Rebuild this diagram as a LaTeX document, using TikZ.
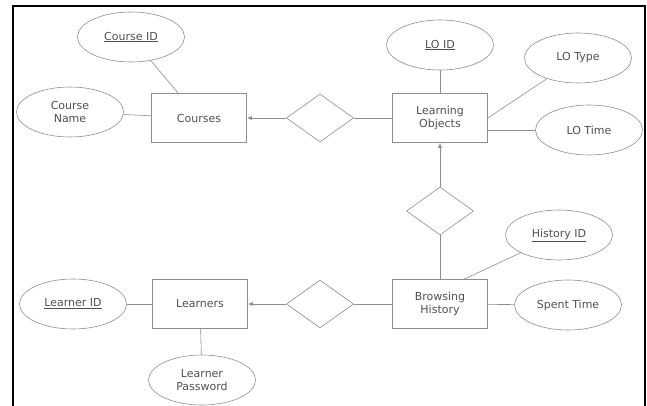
\documentclass[tikz,border=0pt]{standalone}
\usepackage{fontspec}
\setmainfont{DejaVu Sans}
\usetikzlibrary{shapes.geometric,arrows.meta,calc}
\definecolor{linegray}{HTML}{8E8E8E}
\definecolor{textgray}{HTML}{505050}

\tikzset{
  entity/.style={draw=linegray, line width=0.6pt, rectangle, minimum width=95pt, minimum height=49pt,
    text=textgray, align=center, font=\fontsize{11}{13}\selectfont},
  attr/.style={draw=linegray, line width=0.6pt, ellipse, minimum width=107pt, minimum height=50pt,
    inner sep=0pt, text=textgray, align=center, font=\fontsize{11}{13}\selectfont},
  rel/.style={draw=linegray, line width=0.6pt, diamond, minimum width=67pt, minimum height=48pt, inner sep=0pt},
  link/.style={draw=linegray, line width=0.6pt},
  toward/.style={link, -{Latex[length=5pt,width=4pt]}}
}

\begin{document}
\begin{tikzpicture}[x=1pt, y=-1pt]
            \useasboundingbox (0,0) rectangle (647,406);
            % frame
            \draw[line width=2pt] (13,407) -- (13,6) -- (645,6) -- (645,407);

            % Courses side
            \node[entity] (courses) at (199,118) {Courses};
            \node[attr] (courseID) at (131,37) {\underline{Course ID}};
            \node[attr] (courseName) at (70,112) {Course\\Name};
            \node[rel] (offers) at (320,118) {};

            % Learning objects
            \node[entity] (lo) at (440,118) {Learning\\Objects};
            \node[attr] (loID) at (440,45) {\underline{LO ID}};
            \node[attr] (loType) at (578,58) {LO Type};
            \node[attr] (loTime) at (589,130) {LO Time};
            \node[rel] (refers) at (440,211) {};

            % Browsing history
            \node[entity] (history) at (440,304) {Browsing\\History};
            \node[attr] (historyID) at (559,235) {\underline{History ID}};
            \node[attr] (spentTime) at (568,305) {Spent Time};
            \node[rel] (browses) at (320,304) {};

            % Learners
            \node[entity] (learners) at (200,304) {Learners};
            \node[attr] (learnerID) at (73,304) {\underline{Learner ID}};
            \node[attr] (learnerPwd) at (202,380) {Learner\\Password};

            % connectors
            \draw[link] (courseID) -- (courses);
            \draw[link] (courseName) -- (courses);
            \draw[toward] (offers.west) -- (courses.east);
            \draw[link] (lo.west) -- (offers.east);
            \draw[link] (loID) -- (lo);
            \draw[link] (loType) -- (lo.east);
            \draw[link] (loTime.west) -- (loTime.west -| lo.east);
            \draw[toward] (refers.north) -- (lo.south);
            \draw[link] (history.north) -- (refers.south);
            \draw[link] (historyID) -- ($(history.north)!0.5!(history.north east)$);
            \draw[link] (spentTime) -- (history);
            \draw[link] (history.west) -- (browses.east);
            \draw[toward] (browses.west) -- (learners.east);
            \draw[link] (learnerID) -- (learners);
            \draw[link] (learners) -- (learnerPwd);

        \end{tikzpicture}
\end{document}
